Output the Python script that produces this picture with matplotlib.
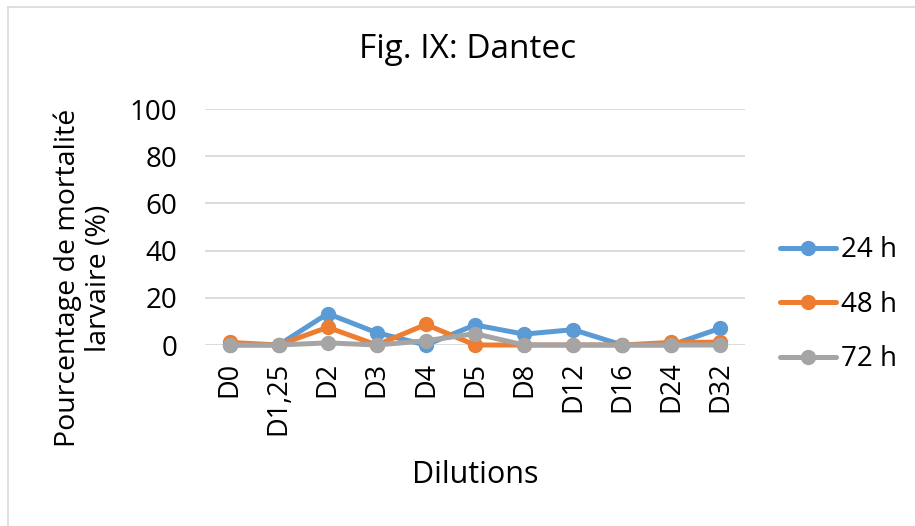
import matplotlib
matplotlib.use("Agg")
import matplotlib.pyplot as plt
from matplotlib.lines import Line2D

categories = ["D0", "D1,25", "D2", "D3", "D4", "D5", "D8", "D12", "D16", "D24", "D32"]
series_names = ["24 h", "48 h", "72 h"]
h24 = [0, 0, 13.3, 5.2, 0, 8.5, 4.6, 6.5, 0, 0, 7.1]
h48 = [1.1, 0, 7.5, 0, 8.7, 0, 0, 0, 0, 1.1, 1.2]
h72 = [0, 0, 0.9, 0, 1.8, 4.8, 0, 0, 0, 0, 0]
colors = ["#5B9BD5", "#ED7D31", "#A5A5A5"]
yticks = [0, 20, 40, 60, 80, 100]

plt.rcParams['font.family'] = ['Open Sans', 'DejaVu Sans']

W, H = 915, 526
fig = plt.figure(figsize=(W / 100, H / 100), dpi=100)
ax = fig.add_axes([205 / W, 1 - 345 / H, 540 / W, 236 / H])

x = list(range(len(categories)))
for vals, name, c in zip([h24, h48, h72], series_names, colors):
    ax.plot(x, vals, color=c, lw=3.6, marker='o', markersize=10,
            solid_capstyle='round', solid_joinstyle='round', label=name, clip_on=False, zorder=3)

ax.set_xlim(-0.5, len(categories) - 0.5)
ax.set_ylim(0, 100)
ax.set_yticks(yticks)
ax.set_xticks(x)
ax.set_xticklabels(categories, rotation=90, fontsize=19.5)
ax.tick_params(axis='y', labelsize=20, length=0, pad=20)
ax.tick_params(axis='x', length=0, pad=12)
ax.grid(axis='y', color='#D9D9D9', lw=1.3, zorder=0)
for s in ax.spines.values():
    s.set_visible(False)

ax.set_xlabel("Dilutions", fontsize=22)
ax.xaxis.set_label_coords(0.5, (345 - 460) / 236)
ax.set_ylabel("Pourcentage de mortalité\nlarvaire (%)", fontsize=20.5, linespacing=1.12)
ax.yaxis.set_label_coords((83 - 205) / 540, (345 - 278) / 236)
ax.yaxis.label.set_verticalalignment('center')

fig.text(468 / W, 1 - 50 / H, "Fig. IX: Dantec", fontsize=24, ha='center', va='center')

leg = ax.legend(loc='center left', bbox_to_anchor=(1.065, 0.17), frameon=False,
                fontsize=20, handlelength=2.0, labelspacing=0.95, handletextpad=0.18,
                borderaxespad=0, borderpad=0)

# chart border (top and left visible)
fig.add_artist(Line2D([7.5 / W, 1.0], [1 - 6.5 / H, 1 - 6.5 / H], color='#D9D9D9', lw=1.2))
fig.add_artist(Line2D([7.5 / W, 7.5 / W], [0, 1 - 6.5 / H], color='#D9D9D9', lw=1.2))

fig.savefig("out.png", dpi=100)
